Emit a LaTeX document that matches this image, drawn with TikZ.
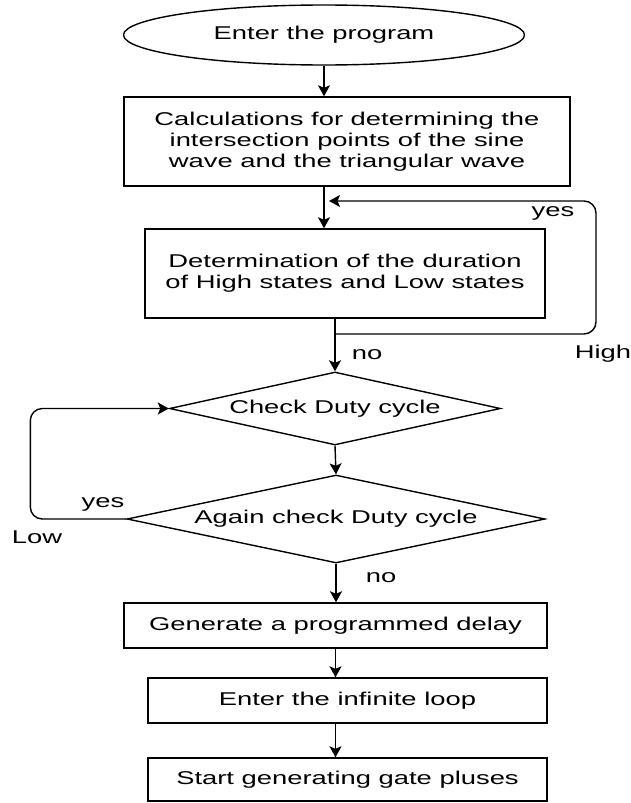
\documentclass[tikz,border=0pt]{standalone}
\usepackage{fontspec}
\setmainfont{Liberation Sans}[FakeStretch=1.48]
\usetikzlibrary{shapes.geometric,arrows.meta}

\begin{document}
\begin{tikzpicture}[x=1pt, y=-1pt, line width=1.4pt,
  every node/.style={font=\fontsize{18.5}{21}\selectfont, inner sep=0pt},
  box/.style={draw, rectangle, align=center},
  decision/.style={draw, diamond, aspect=4.5},
  arr/.style={-{Stealth[length=11pt, width=12pt, inset=2.5pt]}}]
  \useasboundingbox (0,0) rectangle (631,803);
  \node[draw, ellipse, minimum width=401pt, minimum height=60pt] (start) at (324,35) {Enter the program};
  \node[box, minimum width=446pt, minimum height=89pt] (calc) at (347,141.5)
    {Calculations for determining the\\intersection points of the sine\\wave and the triangular wave};
  \node[box, minimum width=400pt, minimum height=89pt] (dur) at (345,273.5)
    {Determination of the duration\\of High states and Low states};
  \node[decision, minimum width=331pt, minimum height=73pt] (chk) at (335,408.5) {Check Duty cycle};
  \node[decision, minimum width=418pt, minimum height=88pt] (again) at (336,519) {Again check Duty cycle};
  \node[box, minimum width=423pt, minimum height=45pt] (delay) at (335.5,625.5) {Generate a programmed delay};
  \node[box, minimum width=399pt, minimum height=45pt] (loop) at (347.5,700.5) {Enter the infinite loop};
  \node[box, minimum width=399pt, minimum height=43pt] (gate) at (347.5,779.5) {Start generating gate pluses};
  \node (yes1) at (553,213) {yes};
  \node (high) at (603,354) {High};
  \node (no1) at (367,355) {no};
  \node (yes2) at (103,504) {yes};
  \node (low) at (37,537) {Low};
  \node (no2) at (381,578) {no};
  \coordinate (hi) at (335,334);
  \coordinate (back) at (329,201);
  \draw[arr] (start.south) -- (start.south |- calc.north);
  \draw[arr] (start.south |- calc.south) -- (start.south |- dur.north);
  \draw[arr] (chk.north |- dur.south) -- (chk.north);
  \draw[arr, rounded corners=12pt] (hi) -- (596,334) -- (596,201) -- (back);
  \draw[arr] (chk.south) -- (again.north);
  \draw[arr, rounded corners=12pt] (again.west) -- ++(-96,0) |- (chk.west);
  \draw[arr] (again.south) -- (again.south |- delay.north);
  \draw[arr] (delay.south) -- (delay.south |- loop.north);
  \draw[arr] (delay.south |- loop.south) -- (delay.south |- gate.north);
\end{tikzpicture}
\end{document}
